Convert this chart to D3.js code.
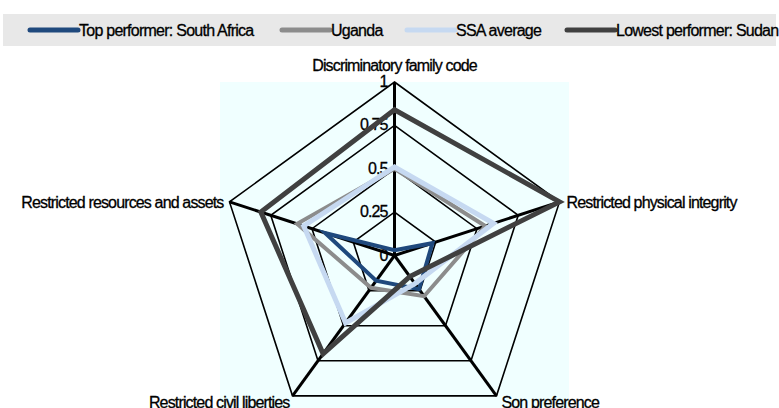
<!DOCTYPE html>
<html>
<head>
<meta charset="utf-8">
<script src="https://cdn.jsdelivr.net/npm/d3@7"></script>
<style>
  body { margin: 0; background: #fff; }
  text { font-family: "Liberation Sans", Arial, sans-serif; fill: #000; stroke: #000; stroke-width: 0.3px; }
</style>
</head>
<body>
<div id="chart"></div>
<script>
// radar chart data
let axes = ['Discriminatory family code', 'Restricted physical integrity', 'Son preference',
            'Restricted civil liberties', 'Restricted resources and assets'];
let southAfrica = [0.03, 0.23, 0.24, 0.18, 0.42];
let uganda = [0.5, 0.55, 0.29, 0.23, 0.59];
let ssaAverage = [0.51, 0.6, 0.2, 0.48, 0.55];
let sudan = [0.84, 1.0, 0.15, 0.7, 0.81];
let seriesNames = ['Top performer: South Africa', 'Uganda', 'SSA average', 'Lowest performer: Sudan'];
let seriesColors = ['#1f497d', '#8c8c8c', '#c6d9f1', '#404040'];
let ticks = [0, 0.25, 0.5, 0.75, 1];

let svgWidth = 779, svgHeight = 408;
let cx = 394.5, cy = 255.5, R = 173.5;

let svg = d3.select('#chart').append('svg')
    .attr('width', svgWidth).attr('height', svgHeight);

// legend box
svg.append('rect').attr('x', 3).attr('y', 14).attr('width', 773).attr('height', 32).attr('fill', '#e8e8e8');
let legendX = [28, 280, 405, 565];
seriesNames.forEach(function(name, i){
    let g = svg.append('g').attr('transform', `translate(${legendX[i]},30)`);
    g.append('line').attr('x1', 2).attr('x2', 50).attr('y1', 0).attr('y2', 0)
        .attr('stroke', seriesColors[i]).attr('stroke-width', 5).attr('stroke-linecap', 'round');
    g.append('text').attr('x', 51).attr('y', 5.5).attr('font-size', 16)
        .attr('letter-spacing', -0.75).text(name);
});

// plot background
svg.append('rect').attr('x', 220).attr('y', 82).attr('width', 349).attr('height', 326).attr('fill', '#f0ffff');

let r = d3.scaleLinear().domain([0, 1]).range([0, R]);
let angle = d3.scalePoint().domain(d3.range(axes.length + 1)).range([0, 2 * Math.PI]);

let g = svg.append('g').attr('transform', `translate(${cx},${cy})`);

// grid rings
let ring = d3.lineRadial().angle((d, i) => angle(i)).radius(d => r(d)).curve(d3.curveLinearClosed);
ticks.slice(1).forEach(function(t){
    g.append('path').attr('d', ring(axes.map(() => t)))
        .attr('fill', 'none').attr('stroke', '#000').attr('stroke-width', 1.6);
});

// spokes
axes.forEach(function(a, i){
    let ang = angle(i);
    g.append('line').attr('x1', 0).attr('y1', 0)
        .attr('x2', r(1) * Math.sin(ang)).attr('y2', -r(1) * Math.cos(ang))
        .attr('stroke', '#000').attr('stroke-width', 3);
});

// tick labels
ticks.forEach(function(t){
    g.append('text').attr('x', -7).attr('y', -r(t) + 5).attr('text-anchor', 'end')
        .attr('font-size', 16).attr('letter-spacing', -0.9).text(t);
});

// axis labels
let labelPos = [
    { dx: 0, dy: -11, anchor: 'middle' },
    { dx: 7, dy: 6, anchor: 'start' },
    { dx: 5, dy: 12, anchor: 'start' },
    { dx: -3, dy: 12, anchor: 'end' },
    { dx: -6, dy: 6, anchor: 'end' }
];
axes.forEach(function(a, i){
    let ang = angle(i);
    g.append('text')
        .attr('x', r(1) * Math.sin(ang) + labelPos[i].dx)
        .attr('y', -r(1) * Math.cos(ang) + labelPos[i].dy)
        .attr('text-anchor', labelPos[i].anchor)
        .attr('font-size', 16).attr('letter-spacing', -0.85).text(a);
});

// series
let seriesData = [southAfrica, uganda, ssaAverage, sudan];
let widths = [4, 4, 5, 5];
seriesData.forEach(function(vals, i){
    g.append('path').attr('d', ring(vals))
        .attr('fill', 'none').attr('stroke', seriesColors[i])
        .attr('stroke-width', widths[i]).attr('stroke-linejoin', 'miter');
});
</script>
</body>
</html>
